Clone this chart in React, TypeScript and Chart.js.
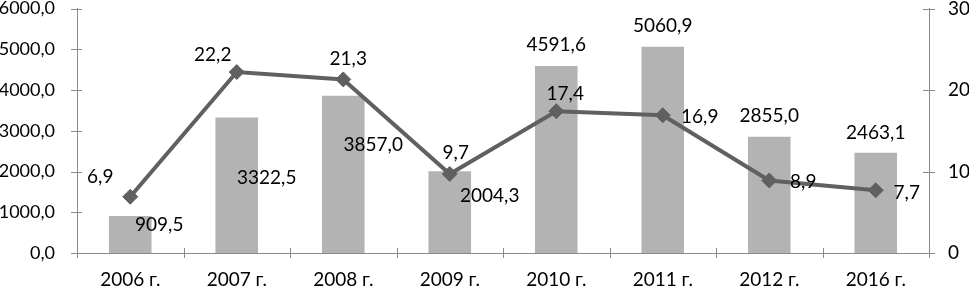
import React, { useEffect, useRef } from "react";
import { Chart, registerables } from "chart.js";

Chart.register(...registerables);

const categories = ["2006 г.", "2007 г.", "2008 г.", "2009 г.", "2010 г.", "2011 г.", "2012 г.", "2016 г."];
const barValues = [909.5, 3322.5, 3857.0, 2004.3, 4591.6, 5060.9, 2855.0, 2463.1];
const lineValues = [6.9, 22.2, 21.3, 9.7, 17.4, 16.9, 8.9, 7.7];

// label offsets (dx, dy) of label centre relative to bar top / point
const barLabelOffsets = [[29, 9], [30, 60], [30, 49], [40, 25], [0, -21], [0, -21], [0, -21], [0, -20]];
const lineLabelOffsets = [[-30, -20], [-24, -17], [5, -21], [6, -21], [9, -17], [37, 2], [34, 1], [31, 3]];

const FONT = "Lato, 'Open Sans', sans-serif";
const FONT_SIZE = 19;
const AXIS_COLOR = "#8a8a8a";

const fmt = (v: number) => v.toFixed(1).replace(".", ",");

const labelsPlugin = {
  id: "customLabels",
  afterDraw(chart: any) {
    const ctx = chart.ctx;
    const { left, right, bottom } = chart.chartArea;
    ctx.save();
    ctx.strokeStyle = AXIS_COLOR;
    ctx.lineWidth = 1;
    const y = chart.scales.y;
    const y1 = chart.scales.y1;
    ctx.beginPath();
    y.ticks.forEach((t: any) => {
      const py = Math.round(y.getPixelForValue(t.value)) + 0.5;
      ctx.moveTo(left - 6, py);
      ctx.lineTo(left + 5, py);
    });
    y1.ticks.forEach((t: any) => {
      const py = Math.round(y1.getPixelForValue(t.value)) + 0.5;
      ctx.moveTo(right - 6, py);
      ctx.lineTo(right + 6, py);
    });
    const n = categories.length;
    for (let i = 0; i <= n; i++) {
      const px = Math.round(left + ((right - left) * i) / n) + 0.5;
      ctx.moveTo(px, bottom - 5);
      ctx.lineTo(px, bottom + 5);
    }
    ctx.stroke();

    ctx.fillStyle = "#000";
    ctx.font = `${FONT_SIZE}px ${FONT}`;
    ctx.textAlign = "center";
    ctx.textBaseline = "middle";
    const barMeta = chart.getDatasetMeta(1);
    barMeta.data.forEach((el: any, i: number) => {
      const [dx, dy] = barLabelOffsets[i];
      ctx.fillText(fmt(barValues[i]), el.x + dx, el.y + dy);
    });
    const lineMeta = chart.getDatasetMeta(0);
    lineMeta.data.forEach((el: any, i: number) => {
      const [dx, dy] = lineLabelOffsets[i];
      ctx.fillText(fmt(lineValues[i]), el.x + dx, el.y + dy);
    });
    ctx.restore();
  },
};

export default function App() {
  const ref = useRef<HTMLCanvasElement>(null);
  useEffect(() => {
    if (!ref.current) return;
    const chart = new Chart(ref.current, {
      type: "bar",
      data: {
        labels: categories,
        datasets: [
          {
            type: "line",
            data: lineValues,
            yAxisID: "y1",
            borderColor: "#606060",
            backgroundColor: "#606060",
            borderWidth: 4,
            pointStyle: "rectRot",
            pointRadius: 7.5,
            pointBorderWidth: 1,
            pointBackgroundColor: "#606060",
            pointBorderColor: "#606060",
            order: 1,
          } as any,
          {
            type: "bar",
            data: barValues,
            yAxisID: "y",
            backgroundColor: "#b3b3b3",
            barPercentage: 0.4,
            categoryPercentage: 1,
            order: 2,
          },
        ],
      },
      options: {
        animation: false,
        responsive: false,
        layout: { padding: { top: 7, left: 0, right: 0, bottom: 0 } },
        plugins: { legend: { display: false }, tooltip: { enabled: false } },
        scales: {
          x: {
            grid: { display: false, drawTicks: false },
            border: { display: true, color: AXIS_COLOR, width: 1 },
            ticks: { color: "#000", font: { family: FONT, size: FONT_SIZE }, padding: 15, maxRotation: 0, autoSkip: false },
            afterFit(s: any) {
              s.height = 34;
              s.paddingLeft = 0;
              s.paddingRight = 0;
            },
          },
          y: {
            position: "left",
            min: 0,
            max: 6000,
            grid: { display: false, drawTicks: false },
            border: { display: true, color: AXIS_COLOR, width: 1 },
            ticks: {
              stepSize: 1000,
              color: "#000",
              font: { family: FONT, size: 18 },
              padding: 22,
              callback: (v: any) => fmt(Number(v)),
            },
            afterFit(s: any) {
              s.width = 77;
              s.paddingTop = 0;
              s.paddingBottom = 0;
            },
          },
          y1: {
            position: "right",
            min: 0,
            max: 30,
            grid: { display: false, drawTicks: false },
            border: { display: true, color: AXIS_COLOR, width: 1 },
            ticks: {
              stepSize: 10,
              color: "#000",
              font: { family: FONT, size: FONT_SIZE },
              padding: 19,
              callback: (v: any) => String(v),
            },
            afterFit(s: any) {
              s.width = 40;
              s.paddingTop = 0;
              s.paddingBottom = 0;
            },
          },
        },
      },
      plugins: [labelsPlugin],
    });
    return () => chart.destroy();
  }, []);
  return (
    <canvas
      ref={ref}
      width={969}
      height={287}
      style={{ position: "absolute", left: 0, top: 0, display: "block", width: 969, height: 287 }}
    />
  );
}
